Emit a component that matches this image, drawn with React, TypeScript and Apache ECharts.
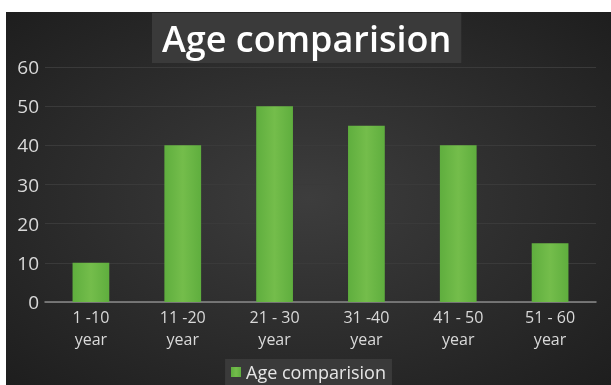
import React, { useEffect, useRef } from "react";
import * as echarts from "echarts";

const categories = ["1 -10\nyear", "11 -20\nyear", "21 - 30\nyear", "31 -40\nyear", "41 - 50\nyear", "51 - 60\nyear"];
const values = [10, 40, 50, 45, 40, 15];
const seriesName = "Age comparision";
const titleText = "Age comparision";

export default function App() {
  const ref = useRef<HTMLDivElement>(null);
  useEffect(() => {
    if (!ref.current) return;
    const chart = echarts.init(ref.current, undefined, { renderer: "svg" });
    chart.setOption({
      animation: false,
      backgroundColor: {
        type: "radial",
        x: 0.5,
        y: 0.5,
        r: 0.75,
        colorStops: [
          { offset: 0, color: "#3d3d3d" },
          { offset: 1, color: "#1c1c1c" },
        ],
      },
      title: {
        text: titleText,
        left: 146,
        top: 1,
        backgroundColor: "#3a3a3a",
        padding: [0, 10, 0, 10],
        textStyle: {
          color: "#ffffff",
          fontFamily: "Open Sans",
          fontWeight: 600,
          fontSize: 36,
          lineHeight: 50,
        },
      },
      legend: {
        bottom: 0,
        left: "center",
        backgroundColor: "#3a3a3a",
        padding: [4, 6, 4, 6],
        itemWidth: 10,
        itemHeight: 10,
        itemGap: 6,
        icon: "rect",
        textStyle: { color: "#e6e6e6", fontFamily: "Open Sans", fontSize: 18 },
        data: [seriesName],
      },
      grid: { left: 39, right: 15, top: 55, bottom: 83 },
      xAxis: {
        type: "category",
        data: categories,
        axisLine: { lineStyle: { color: "#8a8a8a", width: 1.5 } },
        axisTick: { show: false },
        axisLabel: {
          color: "#d9d9d9",
          fontFamily: "Open Sans",
          fontSize: 16,
          lineHeight: 22,
          margin: 4,
          interval: 0,
        },
      },
      yAxis: {
        type: "value",
        min: 0,
        max: 60,
        interval: 10,
        axisLine: { show: false },
        axisTick: { show: false },
        splitLine: { lineStyle: { color: "#3a3a3a", width: 1 } },
        axisLabel: {
          color: "#d9d9d9",
          fontFamily: "Open Sans",
          fontSize: 19,
          margin: 6,
        },
      },
      series: [
        {
          name: seriesName,
          type: "bar",
          data: values,
          barWidth: "40%",
          itemStyle: {
            color: {
              type: "linear",
              x: 0,
              y: 0,
              x2: 1,
              y2: 0,
              colorStops: [
                { offset: 0, color: "#5fae3e" },
                { offset: 0.5, color: "#74bd4b" },
                { offset: 1, color: "#5fae3e" },
              ],
            },
          },
        },
      ],
    });
    return () => chart.dispose();
  }, []);
  return (
    <div
      ref={ref}
      style={{ position: "fixed", left: 6, top: 12, width: 605, height: 373 }}
    />
  );
}
